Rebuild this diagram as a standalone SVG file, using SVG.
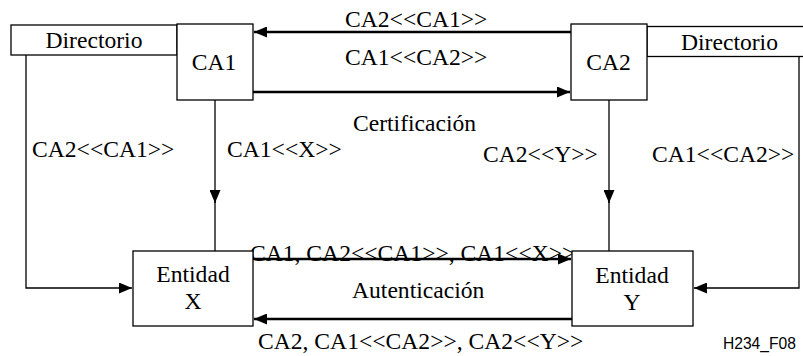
<svg xmlns="http://www.w3.org/2000/svg" width="803" height="356" viewBox="0 0 803 356">
<style>
.box{fill:#fff;stroke:#000;stroke-width:1.3}
.t{font-family:'Liberation Serif','DejaVu Serif',serif;font-size:23.6px;fill:#000}
.m{text-anchor:middle}
.thin{fill:none;stroke:#000;stroke-width:1.3}
.thick{fill:none;stroke:#000;stroke-width:2.4}
.code{font-family:'Liberation Sans',sans-serif;font-size:15.6px;fill:#000}
</style>
<defs>
<marker id="ah" markerUnits="userSpaceOnUse" markerWidth="13" markerHeight="11" refX="13" refY="5.5" orient="auto">
<path d="M0,0 L13,5.5 L0,11 z" fill="#000"/>
</marker>
</defs>
<rect width="803" height="356" fill="#fff"/>
<g id="connectors">
<line class="thick" x1="571" y1="32" x2="254" y2="32" marker-end="url(#ah)"/>
<line class="thick" x1="253" y1="92" x2="570" y2="92" marker-end="url(#ah)"/>
<line class="thin" x1="215" y1="100" x2="215" y2="203" marker-end="url(#ah)"/>
<line class="thin" x1="215" y1="200" x2="215" y2="251"/>
<line class="thin" x1="609" y1="100" x2="609" y2="203" marker-end="url(#ah)"/>
<line class="thin" x1="609" y1="200" x2="609" y2="251"/>
<polyline class="thin" points="26,55 26,288 132,288" marker-end="url(#ah)"/>
<polyline class="thin" points="799,57 799,288 694,288" marker-end="url(#ah)"/>
<line class="thick" x1="253" y1="259" x2="571" y2="259" marker-end="url(#ah)"/>
<line class="thick" x1="572" y1="319" x2="254" y2="319" marker-end="url(#ah)"/>
<g font-family="Liberation Serif, DejaVu Serif, serif">
<text class="t" x="345" y="27">CA2&lt;&lt;CA1&gt;&gt;</text>
<text class="t" x="345" y="65">CA1&lt;&lt;CA2&gt;&gt;</text>
<text class="t" x="353" y="131">Certificación</text>
<text class="t" x="32" y="157">CA2&lt;&lt;CA1&gt;&gt;</text>
<text class="t" x="227" y="157">CA1&lt;&lt;X&gt;&gt;</text>
<text class="t" x="483" y="162">CA2&lt;&lt;Y&gt;&gt;</text>
<text class="t" x="652" y="162">CA1&lt;&lt;CA2&gt;&gt;</text>
<text class="t" x="250" y="261">CA1, CA2&lt;&lt;CA1&gt;&gt;, CA1&lt;&lt;X&gt;&gt;</text>
<text class="t" x="352" y="298">Autenticación</text>
<text class="t" x="258" y="349">CA2, CA1&lt;&lt;CA2&gt;&gt;, CA2&lt;&lt;Y&gt;&gt;</text>
</g>
</g>
<g id="dir1">
<rect class="box" x="11" y="25" width="166" height="30"/>
<text class="t m" x="94" y="48">Directorio</text>
</g>
<g id="dir2">
<rect class="box" x="647" y="26.5" width="170" height="30"/>
<text class="t m" x="729.5" y="49.5">Directorio</text>
</g>
<g id="ca1">
<rect class="box" x="177" y="24" width="76" height="76"/>
<text class="t m" x="214" y="70">CA1</text>
</g>
<g id="ca2">
<rect class="box" x="571" y="24" width="76" height="76"/>
<text class="t m" x="608.5" y="70">CA2</text>
</g>
<g id="entX">
<rect class="box" x="133" y="251" width="120" height="75"/>
<text class="t m" x="193" y="282">Entidad</text>
<text class="t m" x="193" y="309">X</text>
</g>
<g id="entY">
<rect class="box" x="572" y="251" width="121" height="75"/>
<text class="t m" x="632" y="283">Entidad</text>
<text class="t m" x="632" y="310">Y</text>
</g>
<text class="code" x="723" y="349">H234_F08</text>
</svg>
